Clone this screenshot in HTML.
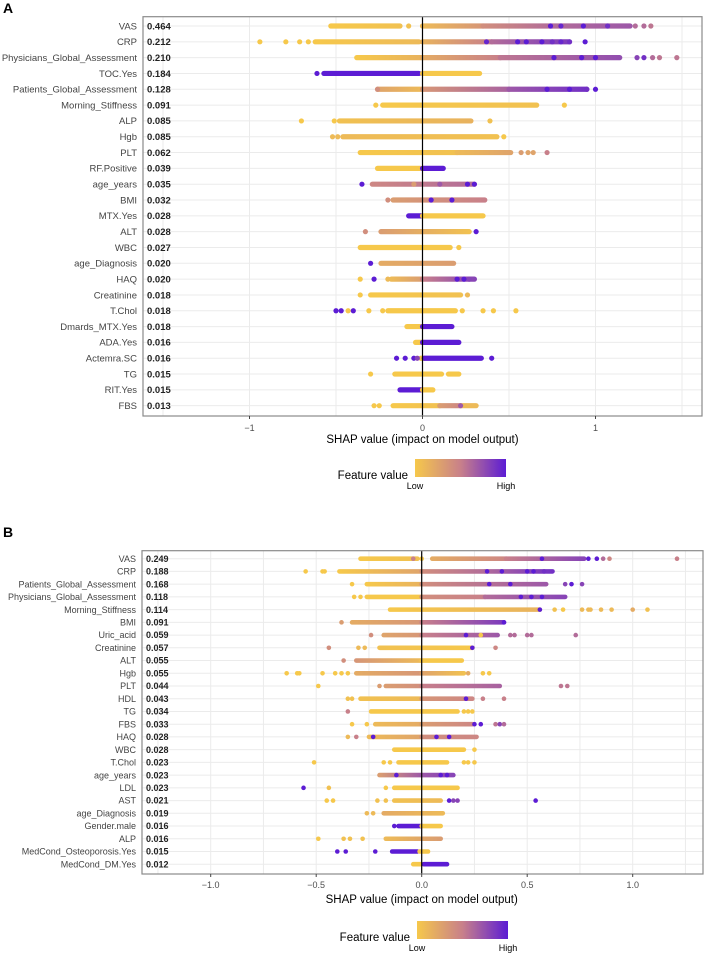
<!DOCTYPE html>
<html><head><meta charset="utf-8"><style>
html,body{margin:0;padding:0;background:#fff;}
svg{display:block;font-family:"Liberation Sans",Arial,sans-serif;}
</style></head><body>
<svg id="chart" width="708" height="953" viewBox="0 0 708 953" xmlns="http://www.w3.org/2000/svg">
<defs>
<linearGradient id="legGrad" x1="0" x2="1" y1="0" y2="0">
<stop offset="0" stop-color="#f6c84b"/><stop offset="0.5" stop-color="#c8808a"/><stop offset="1" stop-color="#5c1cd4"/>
</linearGradient>
</defs>
</svg>
<script>
// ---------- Panel A data ----------
const featuresA = ["VAS","CRP","Physicians_Global_Assessment","TOC.Yes","Patients_Global_Assessment","Morning_Stiffness","ALP","Hgb","PLT","RF.Positive","age_years","BMI","MTX.Yes","ALT","WBC","age_Diagnosis","HAQ","Creatinine","T.Chol","Dmards_MTX.Yes","ADA.Yes","Actemra.SC","TG","RIT.Yes","FBS"];
const importanceA = ["0.464","0.212","0.210","0.184","0.128","0.091","0.085","0.085","0.062","0.039","0.035","0.032","0.028","0.028","0.027","0.020","0.020","0.018","0.018","0.018","0.016","0.016","0.015","0.015","0.013"];
const ticksA = [-1,0,1];
const tickLabelsA = ["\u22121","0","1"];
const segsA = [
 [[-0.53,-0.13,0,0.05],[0,0.35,0.1,0.35],[0.35,0.75,0.4,0.6],[0.75,1.2,0.6,0.7]],
 [[-0.62,-0.02,0,0.1],[0,0.4,0.15,0.5],[0.4,0.85,0.6,0.85]],
 [[-0.38,0,0,0.15],[0,0.45,0.2,0.5],[0.45,1.14,0.55,0.75]],
 [[-0.57,-0.02,1,1],[0,0.33,0,0]],
 [[-0.26,0,0.25,0.1],[0,0.5,0.35,0.65],[0.5,0.95,0.7,0.9]],
 [[-0.23,0.66,0,0.05]],
 [[-0.48,0.28,0.05,0.15]],
 [[-0.46,0.43,0.1,0.05]],
 [[-0.36,0.2,0,0.05],[0.2,0.51,0.1,0.25]],
 [[-0.26,-0.01,0,0],[0,0.12,1,1]],
 [[-0.29,0.3,0.45,0.6]],
 [[-0.17,0.36,0.3,0.5]],
 [[-0.08,0,1,1],[0,0.35,0,0]],
 [[-0.24,0.27,0.3,0.05]],
 [[-0.36,0.16,0,0]],
 [[-0.24,0.18,0.2,0.3]],
 [[-0.18,0,0.1,0.3],[0,0.3,0.5,0.8]],
 [[-0.3,0.22,0,0.05]],
 [[-0.2,0.19,0,0]],
 [[-0.09,0,0,0],[0,0.17,1,1]],
 [[-0.04,0,0,0],[0,0.21,1,1]],
 [[-0.01,0.01,0,0],[0.01,0.34,1,1]],
 [[-0.16,0.11,0,0],[0.15,0.21,0,0]],
 [[-0.13,0,1,1],[0,0.06,0,0]],
 [[-0.17,0.1,0,0.05],[0.1,0.22,0.3,0.45],[0.22,0.31,0.1,0.1]]
];
const dotsA = [
 [[-0.08,0.05],[0.74,1],[0.8,0.95],[0.93,1],[1.07,0.9],[1.23,0.6],[1.28,0.6],[1.32,0.55]],
 [[-0.94,0],[-0.79,0],[-0.71,0],[-0.66,0],[0.37,0.95],[0.55,1],[0.6,1],[0.69,1],[0.75,0.9],[0.8,0.95],[0.85,0.9],[0.94,1]],
 [[1.24,0.8],[1.28,0.9],[1.33,0.6],[1.37,0.55],[1.47,0.55],[0.76,1],[0.92,1],[1.0,1]],
 [[-0.61,1]],
 [[-0.26,0.4],[0.72,1],[0.85,1],[0.95,0.9],[1.0,1]],
 [[-0.27,0],[0.82,0]],
 [[-0.7,0],[-0.51,0],[0.39,0.05]],
 [[-0.52,0.1],[-0.49,0.1],[0.47,0]],
 [[0.57,0.3],[0.61,0.25],[0.64,0.25],[0.72,0.5]],
 [],
 [[-0.35,1],[0.26,1],[0.3,1],[-0.05,0.3],[0.1,0.7]],
 [[-0.2,0.4],[0.05,1],[0.17,1]],
 [],
 [[-0.33,0.4],[0.31,1]],
 [[0.21,0]],
 [[-0.3,1]],
 [[-0.36,0],[-0.28,1],[-0.2,0.1],[0.2,1],[0.24,1],[0.27,0.8]],
 [[-0.36,0],[0.26,0.1]],
 [[-0.5,1],[-0.47,1],[-0.43,0],[-0.4,1],[-0.31,0],[-0.23,0],[0.23,0],[0.35,0],[0.41,0],[0.54,0]],
 [],
 [],
 [[-0.15,1],[-0.1,1],[-0.05,1],[-0.03,0.8],[0.4,1]],
 [[-0.3,0]],
 [],
 [[-0.28,0],[-0.25,0],[0.22,0.7]]
];
// ---------- Panel B data ----------
const featuresB = ["VAS","CRP","Patients_Global_Assessment","Physicians_Global_Assessment","Morning_Stiffness","BMI","Uric_acid","Creatinine","ALT","Hgb","PLT","HDL","TG","FBS","HAQ","WBC","T.Chol","age_years","LDL","AST","age_Diagnosis","Gender.male","ALP","MedCond_Osteoporosis.Yes","MedCond_DM.Yes"];
const importanceB = ["0.249","0.188","0.168","0.118","0.114","0.091","0.059","0.057","0.055","0.055","0.044","0.043","0.034","0.033","0.028","0.028","0.023","0.023","0.023","0.021","0.019","0.016","0.016","0.015","0.012"];
const ticksB = [-1,-0.5,0,0.5,1];
const tickLabelsB = ["\u22121.0","\u22120.5","0.0","0.5","1.0"];
const segsB = [
 [[-0.29,-0.02,0,0.05],[0.05,0.4,0.2,0.45],[0.4,0.77,0.5,0.8]],
 [[-0.39,0,0,0.25],[0,0.3,0.4,0.6],[0.3,0.62,0.6,0.9]],
 [[-0.26,0,0,0.15],[0,0.59,0.4,0.7]],
 [[-0.26,0,0,0],[0,0.3,0.4,0.5],[0.3,0.68,0.6,0.8]],
 [[-0.15,0.56,0,0.15]],
 [[-0.33,0,0.2,0.35],[0,0.39,0.5,0.85]],
 [[-0.18,0,0.25,0.35],[0,0.36,0.5,0.7]],
 [[-0.2,0.24,0.05,0]],
 [[-0.31,0,0.35,0.1],[0,0.19,0,0]],
 [[-0.31,0,0.2,0.35],[0,0.2,0.25,0.05]],
 [[-0.17,0,0.3,0.4],[0,0.37,0.5,0.65]],
 [[-0.29,0,0.05,0.1],[0,0.24,0.35,0.45]],
 [[-0.24,0.17,0,0]],
 [[-0.22,0,0.1,0.2],[0,0.24,0.3,0.45]],
 [[-0.25,0,0.1,0.25],[0,0.26,0.4,0.45]],
 [[-0.13,0.2,0,0]],
 [[-0.11,0.12,0,0]],
 [[-0.2,0,0.3,0.7],[0,0.15,0.7,0.8]],
 [[-0.13,0.17,0,0]],
 [[-0.13,0.09,0.05,0.1]],
 [[-0.18,0.1,0.2,0.1]],
 [[-0.11,0,1,1],[0,0.09,0,0]],
 [[-0.17,0.09,0.1,0.3]],
 [[-0.14,-0.02,1,1],[-0.01,0.03,0,0]],
 [[-0.04,0,0,0],[0.01,0.12,1,1]]
];
const dotsB = [
 [[-0.04,0.5],[0.0,0],[0.57,1],[0.79,1],[0.83,1],[0.86,0.6],[0.89,0.45],[1.21,0.5]],
 [[-0.55,0],[-0.47,0],[-0.46,0],[0.31,1],[0.38,1],[0.5,1],[0.53,1],[0.58,0.9]],
 [[-0.33,0],[0.32,1],[0.42,1],[0.68,0.8],[0.71,1],[0.76,0.8]],
 [[-0.32,0],[-0.29,0],[0.47,1],[0.52,1],[0.57,1]],
 [[0.56,1],[0.63,0.05],[0.67,0],[0.76,0.1],[0.79,0.1],[0.8,0.1],[0.85,0.1],[0.9,0.1],[1.0,0.2],[1.07,0.05]],
 [[-0.38,0.3],[0.39,1]],
 [[-0.24,0.4],[0.21,1],[0.28,0],[0.42,0.6],[0.44,0.6],[0.5,0.6],[0.52,0.6],[0.73,0.6]],
 [[-0.44,0.4],[-0.3,0.1],[-0.27,0.1],[0.24,1],[0.35,0.45]],
 [[-0.37,0.4]],
 [[-0.64,0],[-0.59,0],[-0.58,0],[-0.47,0],[-0.41,0],[-0.38,0],[-0.35,0],[0.22,0.2],[0.29,0],[0.32,0]],
 [[-0.49,0],[-0.2,0.3],[0.66,0.55],[0.69,0.55]],
 [[-0.35,0.05],[-0.33,0.05],[0.21,1],[0.29,0.5],[0.39,0.5]],
 [[-0.35,0.5],[0.2,0],[0.22,0],[0.24,0]],
 [[-0.33,0],[-0.26,0],[0.25,1],[0.28,1],[0.35,0.55],[0.37,0.8],[0.39,0.6]],
 [[-0.35,0.1],[-0.31,0.5],[-0.23,1],[0.07,1],[0.13,1]],
 [[0.25,0]],
 [[-0.51,0],[-0.18,0],[-0.15,0],[0.2,0],[0.22,0],[0.25,0]],
 [[-0.12,1],[0.09,1],[0.12,1]],
 [[-0.56,1],[-0.44,0.05],[-0.17,0]],
 [[-0.45,0],[-0.42,0],[-0.21,0.05],[-0.17,0.05],[0.13,1],[0.15,0.8],[0.17,0.8],[0.54,1]],
 [[-0.26,0.1],[-0.23,0.1]],
 [[-0.13,1]],
 [[-0.49,0],[-0.37,0.05],[-0.34,0.05],[-0.28,0.05]],
 [[-0.4,1],[-0.36,1],[-0.22,1]],
 []
];

const NS = "http://www.w3.org/2000/svg";
const svg = document.getElementById("chart");
const defs = svg.querySelector("defs");
let gradId = 0;
function mk(tag, attrs, parent){
  const e = document.createElementNS(NS, tag);
  for (const k in attrs) e.setAttribute(k, attrs[k]);
  (parent||svg).appendChild(e);
  return e;
}
function colorOf(c){
  const s=[[246,200,75],[200,128,138],[92,28,212]];
  let a,b,t;
  if(c<=0.5){a=s[0];b=s[1];t=c/0.5;}else{a=s[1];b=s[2];t=(c-0.5)/0.5;}
  const r=a.map((v,i)=>Math.round(v+(b[i]-v)*t));
  return "rgb("+r.join(",")+")";
}

function drawPanel(cfg){
  const {letter,letterY,left,right,top,bottom,y0,dy,zeroX,scale,gridStep,feats,imps,segs,dots,ticks,tickLabels,font,r,tickY,titleY,leg} = cfg;
  const xs = v => zeroX + v*scale;
  const ys = i => y0 + i*dy;
  const g = mk("g",{});
  
  
  const lt = mk("text",{x:3,y:letterY,"font-size":14,"font-weight":"bold",fill:"#000"},g);
  lt.textContent = letter;
  
  
  // grid
  const vmin=(left-zeroX)/scale, vmax=(right-zeroX)/scale;
  for(let v=Math.ceil(vmin/gridStep)*gridStep; v<=vmax; v+=gridStep){
    const gl = mk("line",{x1:xs(v),x2:xs(v),y1:top,y2:bottom,stroke:"#ebebeb","stroke-width":1},g);
    
    
  }
  feats.forEach((f,i)=>{
    const hl = mk("line",{x1:left,x2:right,y1:ys(i),y2:ys(i),stroke:"#ebebeb","stroke-width":1},g);
    
    
  });
  // marks
  feats.forEach((f,i)=>{
    const row = mk("g",{},g);
    
    
    segs[i].forEach(s=>{
      const id="sg"+(gradId++);
      const lg = mk("linearGradient",{id:id,gradientUnits:"userSpaceOnUse",x1:xs(s[0]),x2:xs(s[1]),y1:0,y2:0},defs);
      mk("stop",{offset:0,"stop-color":colorOf(s[2])},lg);
      mk("stop",{offset:1,"stop-color":colorOf(s[3])},lg);
      const ln = mk("line",{x1:xs(s[0]),x2:xs(s[1]),y1:ys(i),y2:ys(i),stroke:"url(#"+id+")","stroke-width":r*2,"stroke-linecap":"round"},row);
      
      
    });
    dots[i].forEach(d=>{
      const c = mk("circle",{cx:xs(d[0]),cy:ys(i),r:r,fill:colorOf(d[1])},row);
      
      
    });
  });
  // zero line
  const zl = mk("line",{x1:zeroX,x2:zeroX,y1:top,y2:bottom,stroke:"#000","stroke-width":1.2},g);
  
  
  // box
  const bx = mk("rect",{x:left,y:top,width:right-left,height:bottom-top,fill:"none",stroke:"#8a8a8a","stroke-width":1.2},g);
  
  
  // labels
  feats.forEach((f,i)=>{
    const t = mk("text",{x:left-6,y:ys(i)+font*0.35,"font-size":font,"text-anchor":"end",fill:"#444"},g);
    t.textContent = f;
    
    
    const n = mk("text",{x:left+4,y:ys(i)+font*0.35,"font-size":font,"font-weight":"bold",fill:"#222"},g);
    n.textContent = imps[i];
    
    
  });
  // ticks
  ticks.forEach((v,k)=>{
    const tk = mk("line",{x1:xs(v),x2:xs(v),y1:bottom,y2:bottom+3,stroke:"#444","stroke-width":1},g);
    
    
    const tl = mk("text",{x:xs(v),y:tickY,"font-size":9,"text-anchor":"middle",fill:"#4d4d4d"},g);
    tl.textContent = tickLabels[k];
    
    
  });
  const tt = mk("text",{x:zeroX,y:titleY,"font-size":11.5,"text-anchor":"middle",fill:"#000"},g);
  tt.textContent = "SHAP value (impact on model output)";
  
  
  // legend
  const lgG = mk("g",{},g);
  
  
  const lr = mk("rect",{x:leg.x,y:leg.y,width:91,height:18,fill:"url(#legGrad)"},lgG);
  
  
  const lf = mk("text",{x:leg.x-7,y:leg.y+20,"font-size":11.5,"text-anchor":"end",fill:"#000"},lgG);
  lf.textContent = "Feature value";
  
  
  const lo = mk("text",{x:leg.x,y:leg.y+30,"font-size":9,"text-anchor":"middle",fill:"#000"},lgG);
  lo.textContent = "Low";
  
  
  const hi = mk("text",{x:leg.x+91,y:leg.y+30,"font-size":9,"text-anchor":"middle",fill:"#000"},lgG);
  hi.textContent = "High";
  
  
}

drawPanel({letter:"A",letterY:13,left:143,right:702,top:16.7,bottom:416,y0:26,dy:15.82,zeroX:422.5,scale:173,gridStep:0.5,
  feats:featuresA,imps:importanceA,segs:segsA,dots:dotsA,ticks:ticksA,tickLabels:tickLabelsA,font:9.5,r:2.6,tickY:431,titleY:443,leg:{x:415,y:459}});
drawPanel({letter:"B",letterY:537,left:142,right:703,top:550.7,bottom:874,y0:558.7,dy:12.73,zeroX:421.7,scale:211,gridStep:0.25,
  feats:featuresB,imps:importanceB,segs:segsB,dots:dotsB,ticks:ticksB,tickLabels:tickLabelsB,font:9,r:2.3,tickY:888,titleY:903,leg:{x:417,y:921}});
</script>
</body></html>
